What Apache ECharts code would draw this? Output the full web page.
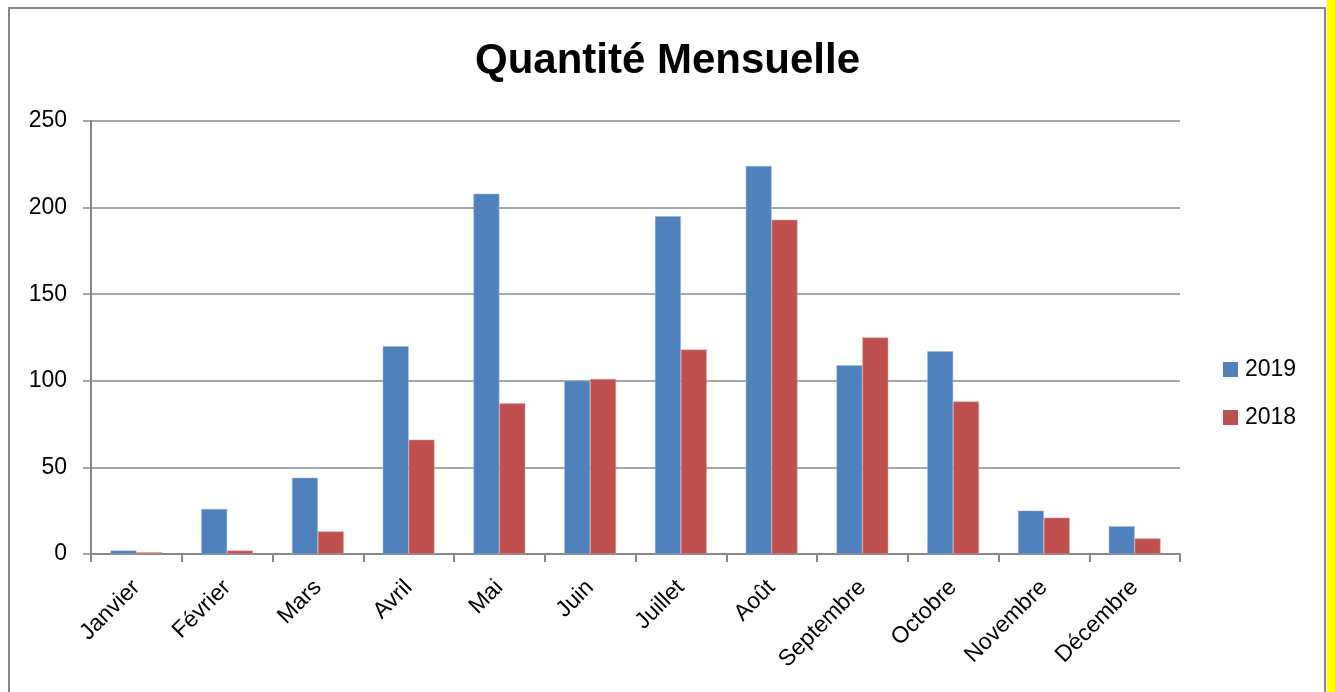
<!DOCTYPE html>
<html>
<head>
<meta charset="utf-8">
<script src="https://cdn.jsdelivr.net/npm/echarts@6/dist/echarts.min.js"></script>
<style>
  html, body { margin: 0; padding: 0; background: #fff; }
  #chart { width: 1335px; height: 692px; }
</style>
</head>
<body>
<div id="chart"></div>
<script>
// mois et quantités
var months = ['Janvier', 'Février', 'Mars', 'Avril', 'Mai', 'Juin', 'Juillet', 'Août', 'Septembre', 'Octobre', 'Novembre', 'Décembre']
var qty2019 = [2, 26, 44, 120, 208, 100, 195, 224, 109, 117, 25, 16]
var qty2018 = [1, 2, 13, 66, 87, 101, 118, 193, 125, 88, 21, 9]
var yTicks = [0, 50, 100, 150, 200, 250]

var font = '"Liberation Sans", Arial, sans-serif'
var chart = echarts.init(document.getElementById('chart'))

var option = {
  backgroundColor: '#fff',
  animation: false,
  title: {
    text: 'Quantité Mensuelle',
    left: 'center',
    top: 35,
    textStyle: { fontFamily: font, fontSize: 42, fontWeight: 'bold', color: '#000' }
  },
  legend: {
    orient: 'vertical',
    left: 1218,
    top: 353,
    itemWidth: 15,
    itemHeight: 15,
    itemGap: 25,
    icon: 'rect',
    itemStyle: { borderWidth: 0 },
    textStyle: { fontFamily: font, fontSize: 23, color: '#000', padding: [0, 0, 0, 2] },
    data: ['2019', '2018']
  },
  grid: { left: 91, right: 155, top: 121, bottom: 138 },
  xAxis: {
    type: 'category',
    data: months,
    axisLine: { lineStyle: { color: '#888', width: 2 } },
    axisTick: { show: true, length: 8, lineStyle: { color: '#888', width: 2 } },
    axisLabel: { rotate: 45, fontFamily: font, fontSize: 23, color: '#000', margin: 30 }
  },
  yAxis: {
    type: 'value',
    min: yTicks[0],
    max: yTicks[yTicks.length - 1],
    interval: 50,
    axisLine: { show: true, lineStyle: { color: '#888', width: 2 } },
    axisTick: { show: true, length: 8, lineStyle: { color: '#888', width: 1.5 } },
    splitLine: { lineStyle: { color: '#888', width: 1.5 } },
    axisLabel: { fontFamily: font, fontSize: 23, color: '#000', margin: 24 }
  },
  series: [
    {
      name: '2019',
      type: 'bar',
      data: qty2019,
      barGap: '0%',
      barCategoryGap: '43%',
      itemStyle: { color: '#4F81BD', borderColor: '#9db8da', borderWidth: 0.5 }
    },
    {
      name: '2018',
      type: 'bar',
      data: qty2018,
      itemStyle: { color: '#C0504D', borderColor: '#e0a09e', borderWidth: 0.5 }
    }
  ],
  graphic: [
    { type: 'rect', shape: { x: 9, y: 8, width: 1316, height: 700 }, style: { fill: 'none', stroke: '#888', lineWidth: 2 }, silent: true },
    { type: 'rect', shape: { x: 1327, y: 0, width: 8, height: 692 }, style: { fill: '#ffff00' }, silent: true }
  ]
}
chart.setOption(option)
</script>
</body>
</html>
